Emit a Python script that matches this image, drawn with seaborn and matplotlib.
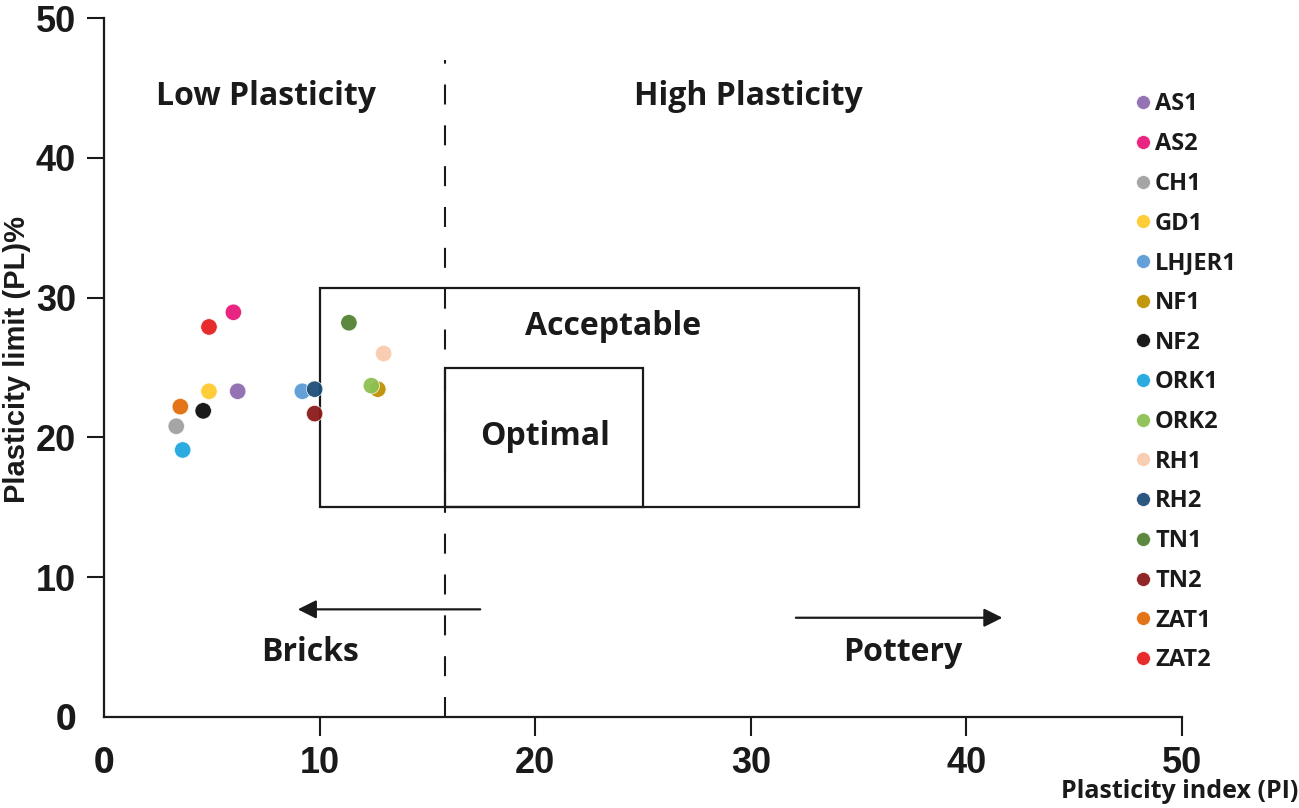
import matplotlib
matplotlib.use("Agg")
import matplotlib.pyplot as plt
import matplotlib.patches as patches
import seaborn as sns
import pandas as pd

# samples: plasticity index (PI) and plasticity limit (PL)
samples = ["AS1", "AS2", "CH1", "GD1", "LHJER1", "NF1", "NF2", "ORK1",
           "ORK2", "RH1", "RH2", "TN1", "TN2", "ZAT1", "ZAT2"]
pi_vals = [6.2, 6.0, 3.35, 4.87, 9.2, 12.7, 4.6, 3.65, 12.4, 12.97, 9.77, 11.36, 9.77, 3.54, 4.87]
pl_vals = [23.3, 28.95, 20.8, 23.3, 23.3, 23.45, 21.9, 19.1, 23.7, 26.0, 23.45, 28.2, 21.7, 22.2, 27.9]
colors = ["#8E6BB0", "#E8197A", "#A0A0A0", "#FFCA2F", "#5B9BD5", "#BF9000",
          "#0D0D0D", "#1FA8E0", "#8CC152", "#F8CBAD", "#1F4E79", "#548235",
          "#8B1A1A", "#E36C0A", "#E52020"]

df = pd.DataFrame({"Sample": samples, "PI": pi_vals, "PL": pl_vals})
palette = dict(zip(samples, colors))

sns.set_style("white")
plt.rcParams["font.family"] = ["Liberation Sans", "DejaVu Sans"]
osans = ["Open Sans", "DejaVu Sans"]

fig = plt.figure(figsize=(12.99, 8.08), dpi=100)
ax = fig.add_axes([104 / 1299, 1 - 717 / 808, 1078 / 1299, 699 / 808])

sns.scatterplot(data=df, x="PI", y="PL", hue="Sample", palette=palette,
                s=140, edgecolor="white", linewidth=0.5, alpha=0.95, ax=ax, zorder=3)

ax.set_xlim(0, 50)
ax.set_ylim(0, 50)
ax.set_xticks([0, 10, 20, 30, 40, 50])
ax.set_yticks([0, 10, 20, 30, 40, 50])
for t in ax.get_xticklabels() + ax.get_yticklabels():
    t.set_fontweight("bold")
    t.set_fontsize(26)
    t.set_color("#1a1a1a")
ax.get_xticklabels()[0].set_family(osans)
ax.get_yticklabels()[0].set_family(osans)
ax.tick_params(axis="x", length=14, width=1.5, pad=7, color="#1a1a1a")
ax.tick_params(axis="y", length=12, width=1.5, pad=8, color="#1a1a1a")
ax.tick_params(bottom=True, left=True)
ax.xaxis.get_major_ticks()[0].tick1line.set_visible(False)
ax.yaxis.get_major_ticks()[0].tick1line.set_visible(False)
for s in ["top", "right"]:
    ax.spines[s].set_visible(False)
for s in ["left", "bottom"]:
    ax.spines[s].set_linewidth(1.6)
    ax.spines[s].set_color("#1a1a1a")

ax.set_xlabel("")
ax.set_ylabel("")
fig.text(17 / 1299, 1 - 360 / 808, "Plasticity limit (PL)%", rotation=90,
         ha="center", va="center", fontsize=21, fontweight="bold", color="#1a1a1a")
fig.text(1298 / 1299, 1 - 792 / 808, "Plasticity index (PI)", ha="right", va="center",
         fontsize=18, fontweight="bold", family=osans, color="#1a1a1a")

# classification boxes
ax.add_patch(patches.Rectangle((10, 15), 25, 15.7, fill=False, lw=1.6, ec="#1a1a1a", zorder=2))
ax.add_patch(patches.Rectangle((15.8, 15), 9.2, 10, fill=False, lw=1.6, ec="#1a1a1a", zorder=2))
ax.plot([15.8, 15.8], [0, 47], color="#1a1a1a", lw=1.5, dashes=(9.6, 10), zorder=1)

lab = dict(fontweight="bold", family=osans, ha="center", va="center", color="#1a1a1a")
ax.text(7.5, 44.4, "Low Plasticity", fontsize=23, **lab)
ax.text(29.9, 44.4, "High Plasticity", fontsize=23, **lab)
ax.text(23.6, 27.9, "Acceptable", fontsize=23, **lab)
ax.text(20.45, 20.1, "Optimal", fontsize=23, **lab)
ax.text(9.55, 4.6, "Bricks", fontsize=23, **lab)
ax.text(37.06, 4.6, "Pottery", fontsize=23, **lab)

arrow = dict(arrowstyle="-|>", color="#1a1a1a", lw=1.6, mutation_scale=28)
ax.annotate("", xy=(8.86, 7.7), xytext=(17.58, 7.7), arrowprops=arrow)
ax.annotate("", xy=(41.8, 7.1), xytext=(31.96, 7.1), arrowprops=arrow)

sns.move_legend(ax, loc="upper left", bbox_to_anchor=(1122 / 1299, 1 - 83 / 808),
                bbox_transform=fig.transFigure, frameon=False, title=None,
                labelspacing=0.665, handletextpad=0.0, handlelength=1.0,
                borderaxespad=0, prop={"weight": "bold", "family": osans, "size": 17})
for h in ax.get_legend().legend_handles:
    h.set_markersize(10)
for t in ax.get_legend().get_texts():
    t.set_color("#1a1a1a")

fig.savefig("out.png", dpi=100)
